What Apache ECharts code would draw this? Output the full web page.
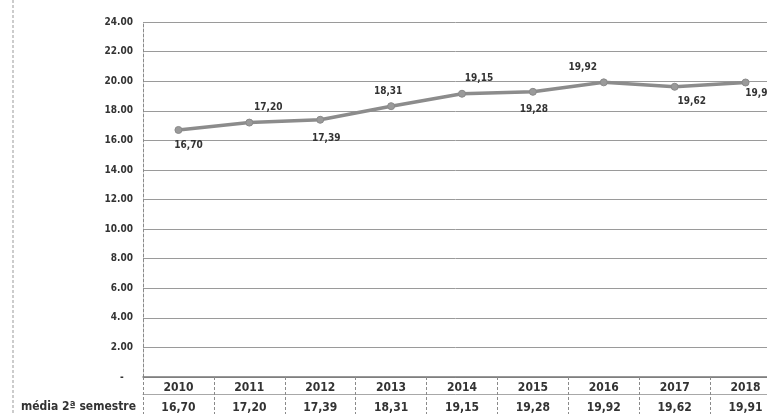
<!DOCTYPE html>
<html>
<head>
<meta charset="utf-8">
<script src="https://cdn.jsdelivr.net/npm/echarts@6/dist/echarts.min.js"></script>
<style>
  html, body { margin: 0; padding: 0; background: #ffffff; }
  #chart { width: 767px; height: 414px; }
</style>
</head>
<body>
<div id="chart"></div>
<script>
// Average grade, second semester, per year
const years = ['2010', '2011', '2012', '2013', '2014', '2015', '2016', '2017', '2018'];
const mediaSegundoSemestre = [16.70, 17.20, 17.39, 18.31, 19.15, 19.28, 19.92, 19.62, 19.91];
const rowLabel = 'média 2ª semestre';

// Where each point label sits relative to its marker
const labelPlacement = [
  { position: 'bottom', offset: [10, 0] },
  { position: 'top', offset: [19, 0] },
  { position: 'bottom', offset: [6, 4] },
  { position: 'top', offset: [-3, 0] },
  { position: 'top', offset: [17, 0] },
  { position: 'bottom', offset: [1, 3] },
  { position: 'top', offset: [-21, 0] },
  { position: 'bottom', offset: [17, 0] },
  { position: 'bottom', offset: [14, -4] }
];

const FONT = '"Liberation Sans Narrow", "DejaVu Sans Condensed", "Liberation Sans", sans-serif';
const comma = v => v.toFixed(2).replace('.', ',');

const chart = echarts.init(document.getElementById('chart'), null, { renderer: 'canvas' });

chart.setOption({
  animation: false,
  backgroundColor: '#ffffff',
  // the plot runs a little past the right edge of the page
  grid: {
    left: 143, right: -14, top: 22, bottom: 37,
    containLabel: false,
    outerBoundsMode: 'none'
  },
  xAxis: [
    {
      type: 'category',
      data: years,
      boundaryGap: true,
      position: 'bottom',
      axisLine: { show: true, lineStyle: { color: '#777777', width: 1.5 } },
      axisTick: {
        show: true, alignWithLabel: false, inside: false, length: 40,
        lineStyle: { color: '#8a8a8a', type: [3, 2], width: 1 }
      },
      axisLabel: {
        margin: 5, color: '#333333', fontFamily: FONT, fontSize: 12, fontWeight: 'bold'
      },
      splitLine: { show: false }
    },
    {
      type: 'category',
      data: mediaSegundoSemestre.map(comma),
      boundaryGap: true,
      position: 'bottom',
      offset: 17,
      axisLine: { show: true, lineStyle: { color: '#a8a8a8', width: 1 } },
      axisTick: { show: false },
      axisLabel: {
        margin: 8, color: '#333333', fontFamily: FONT, fontSize: 12, fontWeight: 'bold'
      },
      splitLine: { show: false }
    }
  ],
  yAxis: {
    type: 'value',
    min: 0,
    max: 24,
    interval: 2,
    axisLine: { show: true, lineStyle: { color: '#8a8a8a', type: [3, 2], width: 1 } },
    axisTick: { show: false },
    axisLabel: {
      margin: 10,
      color: '#333333',
      fontFamily: FONT,
      fontSize: 10,
      fontWeight: 'bold',
      formatter: v => (v === 0 ? '-   ' : v.toFixed(2))
    },
    splitLine: { show: true, lineStyle: { color: '#9a9a9a', width: 1 } }
  },
  series: [
    {
      type: 'line',
      xAxisIndex: 0,
      data: mediaSegundoSemestre.map((v, i) => ({
        value: v,
        label: labelPlacement[i]
      })),
      symbol: 'circle',
      symbolSize: 7,
      lineStyle: { color: '#8c8c8c', width: 3.5 },
      itemStyle: { color: '#9a9a9a', borderColor: '#8a8a8a', borderWidth: 1 },
      label: {
        show: true,
        distance: 6,
        color: '#333333',
        fontFamily: FONT,
        fontSize: 10,
        fontWeight: 'bold',
        formatter: p => comma(p.value)
      }
    }
  ],
  graphic: [
    {
      type: 'line',
      shape: { x1: 13, y1: 0, x2: 13, y2: 414 },
      style: { stroke: '#999999', lineWidth: 1, lineDash: [3, 2] }
    },
    {
      type: 'text',
      right: 767 - 136,
      top: 401,
      style: {
        text: rowLabel,
        fill: '#333333',
        font: 'bold 12px ' + FONT,
        textAlign: 'right'
      }
    }
  ]
});
</script>
</body>
</html>
